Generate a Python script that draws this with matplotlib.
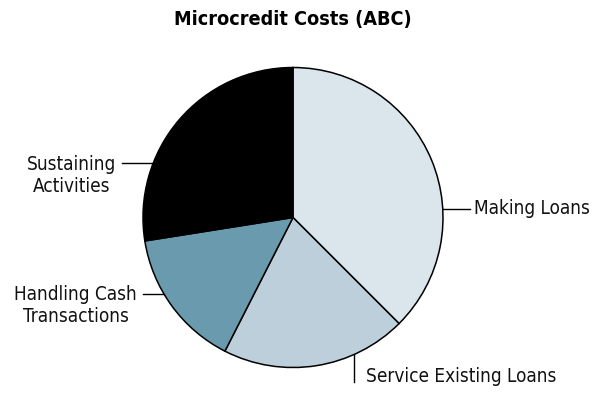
import matplotlib.pyplot as plt
from matplotlib import font_manager

names = {f.name for f in font_manager.fontManager.ttflist}
narrow = 'Liberation Sans Narrow' if 'Liberation Sans Narrow' in names else 'DejaVu Sans'
plt.rcParams['font.family'] = [narrow, 'DejaVu Sans']
fl = font_manager.fontManager.ttflist
cond_bold = any(f.name == 'DejaVu Sans' and f.stretch == 'condensed' and f.weight == 700 for f in fl)
cond_reg = any(f.name == 'DejaVu Sans' and f.stretch == 'condensed' and f.weight == 400 for f in fl)

labels = ["Making Loans", "Service Existing Loans", "Handling Cash\nTransactions", "Sustaining\nActivities"]
shares = [37.5, 20, 15, 27.5]
colors = ["#dae6ec", "#bccfda", "#6a9aad", "#000000"]

W, H = 595, 393
fig = plt.figure(figsize=(W / 100, H / 100), dpi=100)

# pie centre (293, 217.5) px, radius 150 px
cx, cy, r = 293, 217.5, 150
ax = fig.add_axes([(cx - r) / W, (H - cy - r) / H, 2 * r / W, 2 * r / H])
ax.pie(shares, colors=colors, startangle=90, counterclock=False,
       wedgeprops=dict(edgecolor="black", linewidth=1.1))
ax.set_xlim(-1, 1)
ax.set_ylim(-1, 1)
ax.set_aspect("auto")
ax.axis("off")


def px(x, y):
    # pixel coords -> pie data coords
    return (x - cx) / r, (cy - y) / r


kw = dict(color="black", linewidth=1.0, clip_on=False)
if cond_reg:
    tkw = dict(fontsize=13.6, fontstretch="condensed", color="#111111")
else:
    tkw = dict(fontsize=12.3, color="#111111")

# Making Loans
x0, y0 = px(443, 209); x1, _ = px(470, 209)
ax.plot([x0, x1], [y0, y0], **kw)
ax.text(*px(474, 208), labels[0], ha="left", va="center", **tkw)

# Service Existing Loans
x0, y0 = px(354, 355); _, y1 = px(354, 382)
ax.plot([x0, x0], [y0, y1], **kw)
ax.text(*px(366, 376), labels[1], ha="left", va="center", **tkw)

# Handling Cash Transactions
x0, y0 = px(143, 294); x1, _ = px(164, 294)
ax.plot([x0, x1], [y0, y0], **kw)
ax.text(*px(137, 306), labels[2], ha="right", va="center",
        multialignment="center", linespacing=1.2, **tkw)

# Sustaining Activities
x0, y0 = px(122, 163); x1, _ = px(154, 163)
ax.plot([x0, x1], [y0, y0], **kw)
ax.text(*px(116, 175), labels[3], ha="right", va="center",
        multialignment="center", linespacing=1.2, **tkw)

if cond_bold:
    fig.text(293 / W, 1 - 19 / H, "Microcredit Costs (ABC)", ha="center", va="center",
             fontsize=14.2, fontweight="bold", fontstretch="condensed")
else:
    fig.text(293 / W, 1 - 19 / H, "Microcredit Costs (ABC)", ha="center", va="center",
             fontsize=12.8, fontweight="bold")

fig.savefig("out.png", dpi=100)
